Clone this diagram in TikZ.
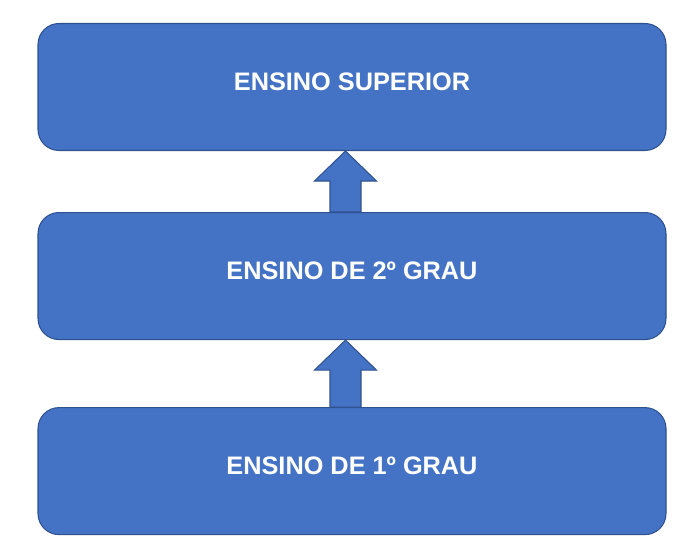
\documentclass[tikz,border=0pt]{standalone}
\usepackage{fontspec}
\setmainfont{Liberation Sans}
\usetikzlibrary{positioning,calc}
\definecolor{boxblue}{HTML}{4472C4}
\definecolor{boxline}{HTML}{2F528F}
\tikzstyle{level} = [rectangle, rounded corners=0.42cm, draw=boxline, fill=boxblue, line width=0.6pt, text=white, font=\bfseries\fontsize{14.4}{16}\selectfont, minimum width=12.56cm, minimum height=2.54cm, text depth=0.2cm]
\tikzstyle{uparrow} = [draw=boxline, fill=boxblue, line width=0.6pt, line join=miter]

\begin{document}
\begin{tikzpicture}[node distance=1.22cm]
    \useasboundingbox (0,0) rectangle (14,11.06);
    \node [level] (sup) at (7.04,9.32) {ENSINO SUPERIOR};
    \node [level, below= of sup] (seg) {ENSINO DE 2º GRAU};
    \node [level, below=1.34cm of seg] (pri) {ENSINO DE 1º GRAU};

    % block arrows going up
    \foreach \from/\to in {seg/sup, pri/seg} {
        \coordinate (tip) at ($(\to.south)+(-0.13,0)$);
        \coordinate (foot) at (tip |- \from.north);
        \draw[uparrow] ($(foot)+(-0.31,0)$) -- ($(tip)+(-0.31,-0.6)$)
            -- ($(tip)+(-0.62,-0.6)$) -- (tip) -- ($(tip)+(0.62,-0.6)$)
            -- ($(tip)+(0.31,-0.6)$) -- ($(foot)+(0.31,0)$) -- cycle;
    }
\end{tikzpicture}
\end{document}
